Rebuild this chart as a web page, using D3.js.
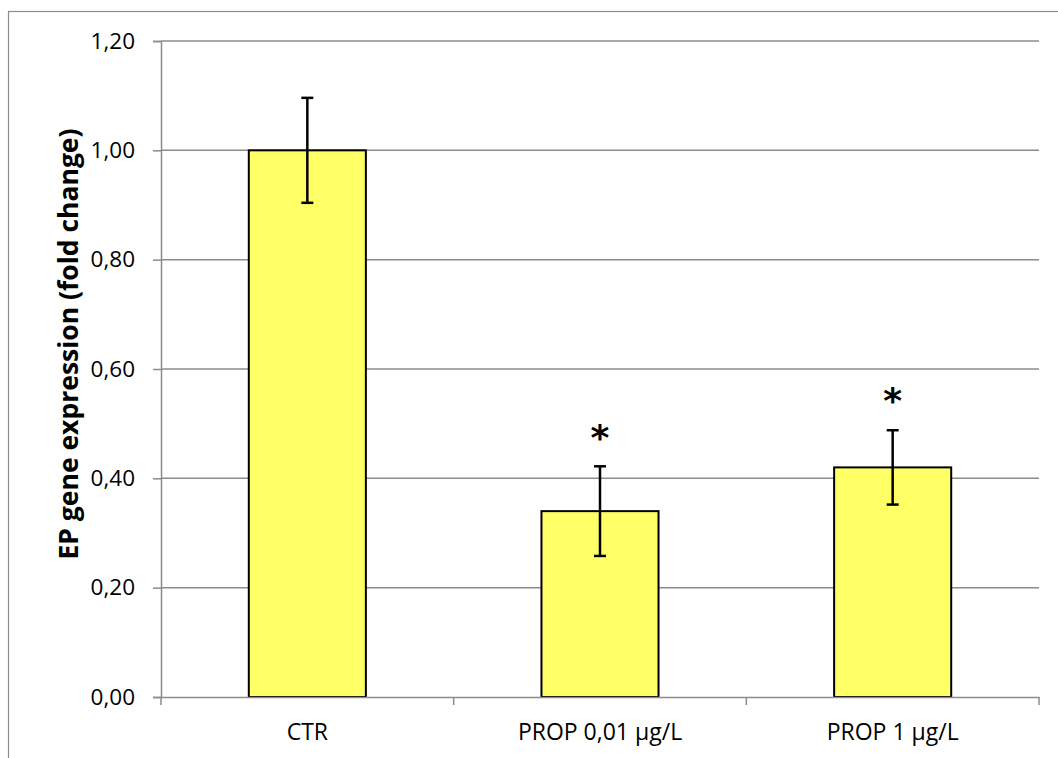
<!DOCTYPE html>
<html><head><meta charset="utf-8">
<script src="https://cdn.jsdelivr.net/npm/d3@7"></script>
<style>body{margin:0;background:#fff}svg{display:block}</style>
</head><body>
<script>
const categories = ["CTR", "PROP 0,01 µg/L", "PROP 1 µg/L"];
const values = [1.00, 0.34, 0.42];
const errors = [0.096, 0.082, 0.068];
const significant = [false, true, true];
const yTicks = [0, 0.2, 0.4, 0.6, 0.8, 1.0, 1.2];
const yTitle = "EP gene expression (fold change)";

const W = 1058, H = 758;
const m = {left: 161, right: 1039, top: 41, bottom: 697};
const font = "'Open Sans', sans-serif";
const svg = d3.select("body").append("svg").attr("width", W).attr("height", H);

svg.append("rect").attr("x", 8.5).attr("y", 11.5).attr("width", 1060).attr("height", 760)
  .attr("fill", "none").attr("stroke", "#8c8c8c").attr("stroke-width", 1.2);

const x = d3.scaleBand().domain(categories).range([m.left, m.right]).padding(0);
const y = d3.scaleLinear().domain([0, 1.2]).range([m.bottom, m.top]);

// gridlines
svg.append("g").selectAll("line").data(yTicks.filter(d => d > 0)).join("line")
  .attr("x1", m.left).attr("x2", m.right).attr("y1", d => y(d)).attr("y2", d => y(d))
  .attr("stroke", "#8c8c8c").attr("stroke-width", 1.5);

// y axis
const yAxis = svg.append("g").attr("transform", `translate(${m.left},0)`)
  .call(d3.axisLeft(y).tickValues(yTicks).tickSize(8).tickPadding(18)
    .tickFormat(d => d3.format(".2f")(d).replace(".", ",")));
yAxis.select(".domain").attr("stroke", "#8c8c8c").attr("stroke-width", 1.5);
yAxis.selectAll(".tick line").attr("stroke", "#8c8c8c").attr("stroke-width", 1.5);
yAxis.selectAll("text").attr("font-family", font).attr("font-size", 22.5).attr("fill", "#000");

// bars
const bw = x.bandwidth() * 0.4;
svg.append("g").selectAll("rect").data(categories).join("rect")
  .attr("x", d => x(d) + (x.bandwidth() - bw) / 2)
  .attr("y", (d, i) => y(values[i]))
  .attr("width", bw)
  .attr("height", (d, i) => y(0) - y(values[i]))
  .attr("fill", "#FFFF66").attr("stroke", "#000").attr("stroke-width", 2);

// x axis
const xAxis = svg.append("g").attr("transform", `translate(0,${m.bottom})`)
  .call(d3.axisBottom(x).tickSize(0).tickPadding(24));
xAxis.select(".domain").attr("stroke", "#8c8c8c").attr("stroke-width", 1.5);
xAxis.selectAll("text").attr("font-family", font).attr("font-size", 23).attr("fill", "#000")
  .attr("y", 35).attr("dy", "0.35em");
const bounds = [m.left, ...categories.map(c => x(c) + x.bandwidth())];
svg.append("g").selectAll("line").data(bounds).join("line")
  .attr("x1", d => d).attr("x2", d => d).attr("y1", m.bottom).attr("y2", m.bottom + 8)
  .attr("stroke", "#8c8c8c").attr("stroke-width", 1.5);

// error bars
const eg = svg.append("g").attr("stroke", "#000").attr("stroke-width", 2.5);
categories.forEach((c, i) => {
  const cx = x(c) + x.bandwidth() / 2;
  const t = y(values[i] + errors[i]), b = y(values[i] - errors[i]);
  eg.append("line").attr("x1", cx).attr("x2", cx).attr("y1", t).attr("y2", b);
  eg.append("line").attr("x1", cx - 6).attr("x2", cx + 6).attr("y1", t).attr("y2", t);
  eg.append("line").attr("x1", cx - 6).attr("x2", cx + 6).attr("y1", b).attr("y2", b);
  if (significant[i]) {
    svg.append("text").attr("x", cx).attr("y", t - 8).attr("text-anchor", "middle")
      .attr("font-family", "'DejaVu Sans', sans-serif").attr("font-weight", "bold")
      .attr("font-size", 36).attr("dy", "0.7em").attr("transform", `translate(0,-34)`)
      .text("*");
  }
});

// y title
svg.append("text").attr("transform", `translate(69,344) rotate(-90)`)
  .attr("text-anchor", "middle").attr("dy", "0.35em").attr("font-family", font).attr("font-weight", "bold")
  .attr("font-size", 26.5).text(yTitle);
</script>
</body></html>
